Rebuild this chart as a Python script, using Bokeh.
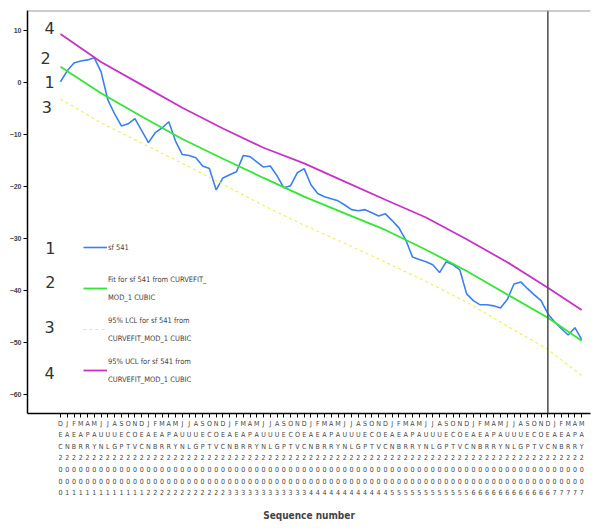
from bokeh.plotting import figure
from bokeh.models import FixedTicker, Span, Label, Legend, LegendItem, Range1d
from bokeh.embed import file_html
from bokeh.resources import INLINE

# ---- data -------------------------------------------------------------
seq = list(range(78))
months = (["DEC"]
          + ["JAN", "FEB", "MAR", "APR", "MAY", "JUN", "JUL", "AUG", "SEP", "OCT", "NOV", "DEC"] * 6
          + ["JAN", "FEB", "MAR", "APR", "MAY"])
years = ([2000] + [2001] * 12 + [2002] * 12 + [2003] * 12 + [2004] * 12
         + [2005] * 12 + [2006] * 12 + [2007] * 5)

sf541 = [0.2, 2.3, 3.8, 4.2, 4.4, 4.8, 2.1, -3.3, -6.0, -8.3,
         -7.9, -6.9, -9.2, -11.5, -9.6, -8.7, -7.5, -11.2, -13.8, -14.0,
         -14.4, -16.0, -16.5, -20.6, -18.3, -17.7, -17.1, -14.0, -14.2, -15.2,
         -16.2, -16.0, -17.9, -20.2, -19.8, -17.3, -16.5, -19.6, -21.3, -21.9,
         -22.3, -22.7, -23.5, -24.4, -24.6, -24.4, -25.0, -25.6, -25.2, -26.5,
         -27.9, -30.2, -33.5, -34.0, -34.4, -35.0, -36.5, -34.4, -35.0, -36.0,
         -40.6, -41.9, -42.7, -42.7, -42.9, -43.3, -41.7, -38.7, -38.3, -39.6,
         -40.8, -41.9, -44.4, -46.0, -47.3, -48.5, -47.1, -49.4]

curve_seq = [0, 6, 12, 18, 24, 30, 36, 42, 48, 54, 60, 66, 72, 77]
fit_val = [3.1, -2.0, -6.5, -10.8, -14.6, -18.3, -21.9, -25.1, -28.3, -32.1, -36.2, -40.7, -45.2, -49.6]
lcl_val = [-3.1, -7.7, -11.6, -15.5, -19.5, -23.6, -27.4, -30.9, -34.5, -38.2, -42.2, -46.8, -51.3, -56.3]
ucl_val = [9.4, 4.0, -0.4, -4.8, -8.8, -12.5, -15.5, -19.0, -22.5, -25.9, -30.1, -34.5, -39.4, -43.7]

y_ticks = [10, 0, -10, -20, -30, -40, -50, -60]
forecast_start = 72

legend_labels = ["sf 541",
                 "Fit for sf 541 from CURVEFIT_\n\nMOD_1 CUBIC",
                 "95% LCL for sf 541 from\n\nCURVEFIT_MOD_1 CUBIC",
                 "95% UCL for sf 541 from\n\nCURVEFIT_MOD_1 CUBIC"]

# ---- figure -----------------------------------------------------------
p = figure(width=600, height=530, output_backend="svg", toolbar_location=None,
           x_range=Range1d(-4.87, 78.3), y_range=Range1d(-63.6, 13.9),
           min_border_left=27, min_border_right=10, min_border_top=10, min_border_bottom=117)
p.background_fill_color = "white"
p.border_fill_color = "white"
p.outline_line_color = None
p.grid.visible = False

blue = p.line(seq, sf541, line_color="#3a80f0", line_width=1.6)
green = p.line(curve_seq, fit_val, line_color="#33e633", line_width=1.8)
yellow = p.line(curve_seq, lcl_val, line_color="#f2f060", line_width=1.2, line_dash="3 3")
mag = p.line(curve_seq, ucl_val, line_color="#c832c8", line_width=1.8)

p.add_layout(Span(location=forecast_start, dimension="height", line_color="#555555", line_width=1.6))
p.add_layout(Span(location=13.9, dimension="width", line_color="#999999", line_width=2))

# y axis
p.yaxis.ticker = FixedTicker(ticks=y_ticks)
p.yaxis.minor_tick_line_color = None
p.yaxis.major_tick_out = 4
p.yaxis.major_tick_in = 0
p.yaxis.major_label_text_font_size = "7px"
p.yaxis.major_label_text_font_style = "bold"
p.yaxis.major_label_text_font = "Liberation Sans"
p.yaxis.major_label_standoff = 2
p.yaxis.axis_line_width = 1.5
p.yaxis.axis_line_color = "black"

# x axis
p.xaxis.ticker = FixedTicker(ticks=seq)
p.xaxis.major_label_overrides = {i: "\n".join(months[i] + str(years[i])) for i in seq}
p.xaxis.minor_tick_line_color = None
p.xaxis.major_tick_out = 4
p.xaxis.major_tick_in = 0
p.xaxis.major_label_text_font_size = "7px"
p.xaxis.major_label_text_font = "DejaVu Sans Condensed"
p.xaxis.major_label_text_line_height = 1.45
p.xaxis.major_label_standoff = 2
p.xaxis.axis_line_width = 1.5
p.xaxis.axis_line_color = "black"
p.xaxis.axis_label = "Sequence number"
p.xaxis.axis_label_text_font = "DejaVu Sans Condensed"
p.xaxis.axis_label_text_font_style = "bold"
p.xaxis.axis_label_text_font_size = "10px"
p.xaxis.axis_label_standoff = 10

# legend
legend = Legend(items=[LegendItem(label=legend_labels[0], renderers=[blue]),
                       LegendItem(label=legend_labels[1], renderers=[green]),
                       LegendItem(label=legend_labels[2], renderers=[yellow]),
                       LegendItem(label=legend_labels[3], renderers=[mag])],
                location=(56, 28), orientation="vertical",
                label_text_font="DejaVu Sans Condensed", label_text_font_size="7.5px",
                label_height=30, glyph_width=24, glyph_height=20,
                label_standoff=1, spacing=11, padding=0, margin=0,
                border_line_color=None, background_fill_alpha=0)
p.add_layout(legend)

# series numbers
for txt, xx, yy in [("4", -1.6, 10.6), ("2", -2.2, 4.8), ("1", -1.6, 0.2), ("3", -2.0, -4.6),
                    ("1", -1.5, -31.8), ("2", -1.5, -38.3), ("3", -1.6, -47.0), ("4", -1.6, -55.8)]:
    p.add_layout(Label(x=xx, y=yy, text=txt, text_font_size="16px", text_color="#333333",
                       text_font="DejaVu Sans", text_align="center", text_baseline="middle"))

open("out.html", "w").write(file_html(p, INLINE))
